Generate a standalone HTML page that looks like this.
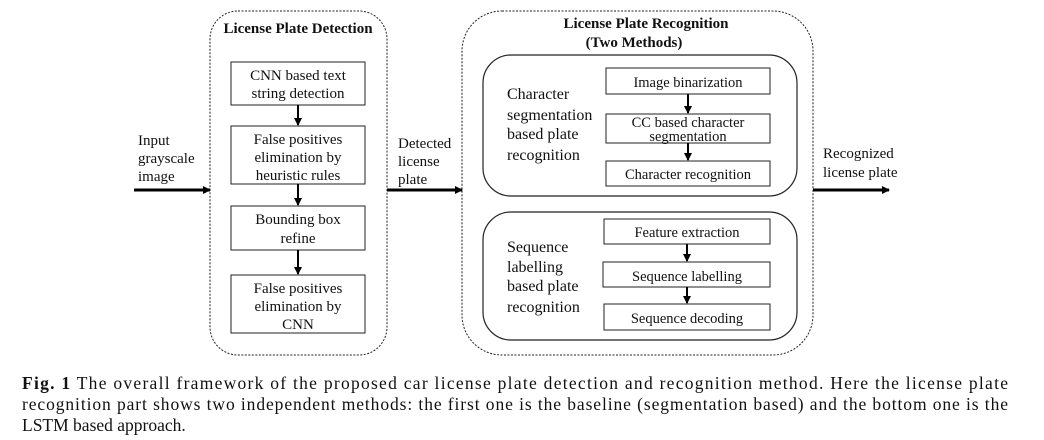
<!DOCTYPE html>
<html><head><meta charset="utf-8"><style>
html,body{margin:0;padding:0;background:#fff;width:1044px;height:440px;overflow:hidden}
svg text{font-family:"Liberation Serif",serif;fill:#111}
</style></head><body>
<svg width="1044" height="440" viewBox="0 0 1044 440" xmlns="http://www.w3.org/2000/svg">
<defs><marker id="a" markerWidth="8" markerHeight="8" refX="7" refY="4" orient="auto" markerUnits="userSpaceOnUse"><path d="M0,0 L8,4 L0,8 z" fill="#000"/></marker></defs>
<g fill="none" stroke="#222" stroke-width="1">
<rect x="210" y="11" width="177" height="344" rx="28" stroke-dasharray="2,1.5"/>
<rect x="462" y="11" width="351" height="344" rx="40" stroke-dasharray="2,1.5"/>
<rect x="483" y="55" width="314" height="141" rx="28" stroke-width="1.2"/>
<rect x="483" y="212" width="314" height="128" rx="28" stroke-width="1.2"/>
<rect x="231" y="62" width="134" height="43"/>
<rect x="231" y="126" width="134" height="58"/>
<rect x="231" y="206" width="134" height="44"/>
<rect x="231" y="275" width="134" height="58"/>
<rect x="606" y="68" width="164" height="26"/>
<rect x="606" y="114" width="164" height="29"/>
<rect x="606" y="161" width="164" height="25"/>
<rect x="604" y="219" width="166" height="25"/>
<rect x="603" y="262" width="167" height="25"/>
<rect x="604" y="304" width="166" height="26"/>
</g>
<g stroke="#000" stroke-width="2" marker-end="url(#a)">
<line x1="298" y1="105" x2="298" y2="125"/>
<line x1="298" y1="184" x2="298" y2="205"/>
<line x1="298" y1="250" x2="298" y2="274"/>
<line x1="688" y1="94" x2="688" y2="113"/>
<line x1="688" y1="143" x2="688" y2="160"/>
<line x1="687" y1="244" x2="687" y2="261"/>
<line x1="687" y1="287" x2="687" y2="303"/>
<line x1="134" y1="190" x2="210" y2="190" stroke-width="3"/>
<line x1="387" y1="190" x2="462" y2="190" stroke-width="3"/>
<line x1="813" y1="190" x2="889" y2="190" stroke-width="3"/>
</g>
<g font-size="15" text-anchor="middle">
<text x="298" y="33" font-weight="bold" font-size="15">License Plate Detection</text>
<text x="298" y="80">CNN based text</text><text x="298" y="98">string detection</text>
<text x="298" y="144">False positives</text><text x="298" y="162">elimination by</text><text x="298" y="180">heuristic rules</text>
<text x="298" y="224">Bounding box</text><text x="298" y="243">refine</text>
<text x="298" y="293">False positives</text><text x="298" y="311">elimination by</text><text x="298" y="329">CNN</text>
<text x="646" y="28" font-weight="bold">License Plate Recognition</text>
<text x="634" y="47" font-weight="bold">(Two Methods)</text>
<text x="688" y="87" font-size="14.5">Image binarization</text>
<text x="688" y="127" font-size="14.5">CC based character</text><text x="688" y="141" font-size="14.5">segmentation</text>
<text x="688" y="179" font-size="14.5">Character recognition</text>
<text x="687" y="237" font-size="14.5">Feature extraction</text>
<text x="687" y="281" font-size="14.5">Sequence labelling</text>
<text x="687" y="323" font-size="14.5">Sequence decoding</text>
</g>
<g font-size="16">
<text x="507" y="99">Character</text><text x="507" y="120">segmentation</text><text x="507" y="139">based plate</text><text x="507" y="160">recognition</text>
<text x="507" y="252">Sequence</text><text x="507" y="272">labelling</text><text x="507" y="291">based plate</text><text x="507" y="312">recognition</text>
<text x="138" y="145" font-size="15">Input</text><text x="138" y="163" font-size="15">grayscale</text><text x="138" y="181" font-size="15">image</text>
<text x="398" y="148" font-size="15">Detected</text><text x="398" y="166" font-size="15">license</text><text x="398" y="184" font-size="15">plate</text>
<text x="823" y="158" font-size="15">Recognized</text><text x="823" y="177" font-size="15">license plate</text>
</g>
<g font-size="17.5">
<text x="22" y="389" textLength="986" lengthAdjust="spacing"><tspan font-weight="bold">Fig. 1</tspan> The overall framework of the proposed car license plate detection and recognition method. Here the license plate</text>
<text x="22" y="410" textLength="986" lengthAdjust="spacing">recognition part shows two independent methods: the first one is the baseline (segmentation based) and the bottom one is the</text>
<text x="22" y="431">LSTM based approach.</text>
</g>
</svg>
</body></html>
